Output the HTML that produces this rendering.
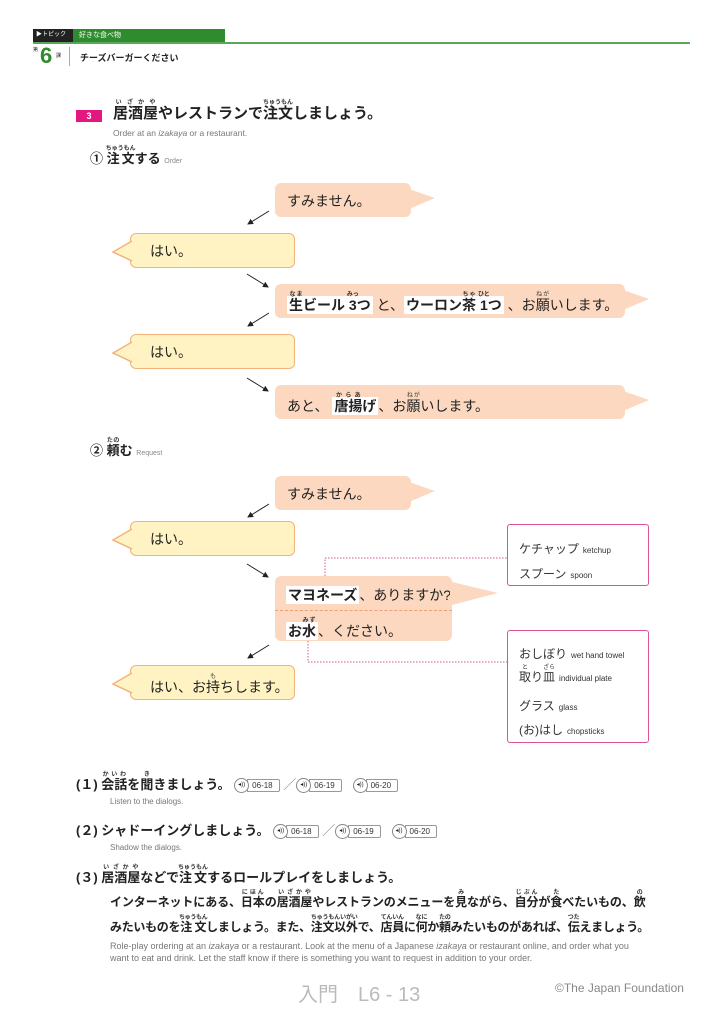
<!DOCTYPE html>
<html><head><meta charset="utf-8"><style>
body{margin:0;width:725px;height:1024px;position:relative;background:#fff;font-family:"Liberation Sans","Noto Sans CJK JP",sans-serif;color:#222;overflow:hidden}
.a{position:absolute;white-space:nowrap}
ruby rt{font-size:6px;color:#333}
.sb{position:absolute;background:#fbd8bf;border-radius:6px}
.sb::after{content:"";position:absolute;right:-24px;top:6px;border-left:26px solid #fbd8bf;border-top:9px solid transparent;border-bottom:11px solid transparent}
.yb{position:absolute;background:#fff3c4;border:1.5px solid #f2b27a;border-radius:6px;box-sizing:border-box}
.bt{position:absolute;font-size:14px;line-height:18px}
.hl{background:#fff;font-weight:bold;padding:1px 2px}
.pk{position:absolute;border:1.5px solid #d9559b;border-radius:3px;box-sizing:border-box;background:#fff}
.pk div{position:absolute;left:11px;font-size:12px;white-space:nowrap;color:#333}
.pk small{font-size:8px;margin-left:4px}
.au{display:inline-block;vertical-align:middle;font-size:8px;border:1px solid #999;border-radius:0 2px 2px 0;padding:0 6px 0 4px;margin-left:-2px;line-height:11px;color:#333}
.ic{display:inline-block;vertical-align:middle;width:13px;height:13px;border:1px solid #888;border-radius:50%;font-size:6px;line-height:13px;text-align:center;background:#fff;position:relative;z-index:1}
.en{font-size:8px;color:#777}
</style></head><body>
<div class="a" style="left:33px;top:29px;width:40px;height:13px;background:#222;color:#fff;font-size:6px;line-height:13px;padding-left:3px;box-sizing:border-box">▶トピック</div>
<div class="a" style="left:73px;top:29px;width:152px;height:13px;background:#2e8b2e;color:#fff;font-size:7px;line-height:13px;padding-left:6px;box-sizing:border-box">好きな食べ物</div>
<div class="a" style="left:33px;top:42px;width:657px;height:1.5px;background:#5aa65a"></div>
<div class="a" style="left:33px;top:46px;font-size:5px">第</div>
<div class="a" style="left:40px;top:44px;font-size:22px;color:#2e8b2e;font-weight:bold;line-height:24px">6</div>
<div class="a" style="left:56px;top:52px;font-size:5px">課</div>
<div class="a" style="left:69px;top:47px;width:1px;height:19px;background:#aaa"></div>
<div class="a" style="left:80px;top:51px;font-size:9px;font-weight:bold">チーズバーガーください</div>

<div class="a" style="left:76px;top:110px;width:26px;height:12px;background:#e3177f;color:#fff;font-size:9px;font-weight:bold;text-align:center;line-height:12px">3</div>
<div class="a" style="left:113px;top:100px;font-size:15px;font-weight:bold;line-height:26px"><ruby>居酒屋<rt>いざかや</rt></ruby>やレストランで<ruby>注文<rt>ちゅうもん</rt></ruby>しましょう。</div>
<div class="a en" style="left:113px;top:128px;font-size:8.5px">Order at an <i>izakaya</i> or a restaurant.</div>
<div class="a" style="left:90px;top:146px;font-size:13px;font-weight:bold;line-height:24px">① <ruby>注文<rt>ちゅうもん</rt></ruby>する <span style="font-size:7px;color:#888;font-weight:normal">Order</span></div>

<div class="sb" style="left:275px;top:183px;width:136px;height:34px"><div class="bt" style="left:12px;top:9px">すみません。</div></div>
<div class="yb" style="left:130px;top:233px;width:165px;height:35px"><div class="bt" style="left:19px;top:8px">はい。</div></div>
<div class="sb" style="left:275px;top:284px;width:350px;height:34px"><div class="bt" style="left:12px;top:8px"><span class="hl"><ruby>生<rt>なま</rt></ruby>ビール <ruby>3<rt>みっ</rt></ruby>つ</span> と、<span class="hl">ウーロン<ruby>茶<rt>ちゃ</rt></ruby> <ruby>1<rt>ひと</rt></ruby>つ</span> 、お<ruby>願<rt>ねが</rt></ruby>いします。</div></div>
<div class="yb" style="left:130px;top:334px;width:165px;height:35px"><div class="bt" style="left:19px;top:8px">はい。</div></div>
<div class="sb" style="left:275px;top:385px;width:350px;height:34px"><div class="bt" style="left:12px;top:8px">あと、 <span class="hl"><ruby>唐揚<rt>からあ</rt></ruby>げ</span>、お<ruby>願<rt>ねが</rt></ruby>いします。</div></div>

<div class="a" style="left:90px;top:438px;font-size:13px;font-weight:bold;line-height:24px">② <ruby>頼<rt>たの</rt></ruby>む <span style="font-size:7px;color:#888;font-weight:normal">Request</span></div>
<div class="sb" style="left:275px;top:476px;width:136px;height:34px"><div class="bt" style="left:12px;top:9px">すみません。</div></div>
<div class="yb" style="left:130px;top:521px;width:165px;height:35px"><div class="bt" style="left:19px;top:8px">はい。</div></div>
<div class="sb" style="left:275px;top:576px;width:177px;height:65px"><div class="bt" style="left:11px;top:10px"><span class="hl">マヨネーズ</span>、ありますか?</div>
<div style="position:absolute;left:0;right:0;top:34px;border-top:1px dashed #f0a070"></div>
<div class="bt" style="left:11px;top:42px"><span class="hl">お<ruby>水<rt>みず</rt></ruby></span>、ください。</div></div>
<div class="yb" style="left:130px;top:665px;width:165px;height:35px"><div class="bt" style="left:19px;top:8px">はい、お<ruby>持<rt>も</rt></ruby>ちします。</div></div>

<svg class="a" style="left:0;top:0" width="725" height="1024">
<defs><marker id="m" markerWidth="6" markerHeight="6" refX="5" refY="3" orient="auto"><path d="M0,0L6,3L0,6z" fill="#222"/></marker></defs>
<g stroke="#222" stroke-width="1" marker-end="url(#m)">
<line x1="269" y1="211" x2="248" y2="224"/><line x1="247" y1="274" x2="268" y2="287"/>
<line x1="269" y1="313" x2="248" y2="326"/><line x1="247" y1="378" x2="268" y2="391"/>
<line x1="269" y1="504" x2="248" y2="517"/><line x1="247" y1="564" x2="268" y2="577"/>
<line x1="269" y1="645" x2="248" y2="658"/>
</g>
<g fill="#fff3c4" stroke="#f2b27a" stroke-width="1.5">
<path d="M132,241 L113,252 L132,261"/>
<path d="M132,342 L113,353 L132,362"/>
<path d="M132,529 L113,540 L132,549"/>
<path d="M132,673 L113,684 L132,693"/>
</g>
<g fill="#fff3c4">
<path d="M133,242 L115,252 L133,260z"/><path d="M133,343 L115,353 L133,361z"/><path d="M133,530 L115,540 L133,548z"/><path d="M133,674 L115,684 L133,692z"/>
</g>
<path d="M452,582 L498,593 L452,605z" fill="#fbd8bf"/>
<g stroke="#d9559b" stroke-width="1" stroke-dasharray="1.5,1.5" fill="none">
<path d="M325,576 V558 H507"/><path d="M308,641 V662 H507"/>
</g>
</svg>
<div class="pk" style="left:507px;top:524px;width:142px;height:62px"><div style="top:15px">ケチャップ<small>ketchup</small></div><div style="top:40px">スプーン<small>spoon</small></div></div>
<div class="pk" style="left:507px;top:630px;width:142px;height:113px"><div style="top:14px">おしぼり<small>wet hand towel</small></div><div style="top:34px"><ruby>取<rt>と</rt></ruby>り<ruby>皿<rt>ざら</rt></ruby><small>individual plate</small></div><div style="top:66px">グラス<small>glass</small></div><div style="top:90px">(お)はし<small>chopsticks</small></div></div>

<div class="a" style="left:76px;top:772px;font-size:13px;font-weight:bold;line-height:22px">(１) <ruby>会話<rt>かいわ</rt></ruby>を<ruby>聞<rt>き</rt></ruby>きましょう。 <span style="font-weight:normal"><span class="ic">◂))</span><span class="au">06-18</span> <span style="color:#888">／</span><span class="ic">◂))</span><span class="au">06-19</span> &nbsp; <span class="ic">◂))</span><span class="au">06-20</span></span></div>
<div class="a en" style="left:110px;top:797px">Listen to the dialogs.</div>
<div class="a" style="left:76px;top:820px;font-size:13px;font-weight:bold;line-height:22px">(２) シャドーイングしましょう。 <span style="font-weight:normal"><span class="ic">◂))</span><span class="au">06-18</span> <span style="color:#888">／</span><span class="ic">◂))</span><span class="au">06-19</span> &nbsp; <span class="ic">◂))</span><span class="au">06-20</span></span></div>
<div class="a en" style="left:110px;top:843px">Shadow the dialogs.</div>
<div class="a" style="left:76px;top:865px;font-size:13px;font-weight:bold;line-height:22px">(３) <ruby>居酒屋<rt>いざかや</rt></ruby>などで<ruby>注文<rt>ちゅうもん</rt></ruby>するロールプレイをしましょう。</div>
<div class="a" style="left:110px;top:890px;font-size:12px;letter-spacing:-0.1px;font-weight:bold;line-height:22px">インターネットにある、<ruby>日本<rt>にほん</rt></ruby>の<ruby>居酒屋<rt>いざかや</rt></ruby>やレストランのメニューを<ruby>見<rt>み</rt></ruby>ながら、<ruby>自分<rt>じぶん</rt></ruby>が<ruby>食<rt>た</rt></ruby>べたいもの、<ruby>飲<rt>の</rt></ruby></div>
<div class="a" style="left:110px;top:915px;font-size:12px;letter-spacing:-0.3px;font-weight:bold;line-height:22px">みたいものを<ruby>注文<rt>ちゅうもん</rt></ruby>しましょう。また、<ruby>注文以外<rt>ちゅうもんいがい</rt></ruby>で、<ruby>店員<rt>てんいん</rt></ruby>に<ruby>何<rt>なに</rt></ruby>か<ruby>頼<rt>たの</rt></ruby>みたいものがあれば、<ruby>伝<rt>つた</rt></ruby>えましょう。</div>
<div class="a en" style="left:110px;top:940px;font-size:9px;line-height:12px">Role-play ordering at an <i>izakaya</i> or a restaurant. Look at the menu of a Japanese <i>izakaya</i> or restaurant online, and order what you<br>want to eat and drink. Let the staff know if there is something you want to request in addition to your order.</div>

<div class="a" style="left:298px;top:978px;font-size:20px;color:#bbb">入門　L6 - 13</div>
<div class="a" style="left:555px;top:981px;font-size:12px;color:#888">©The Japan Foundation</div>
</body></html>
